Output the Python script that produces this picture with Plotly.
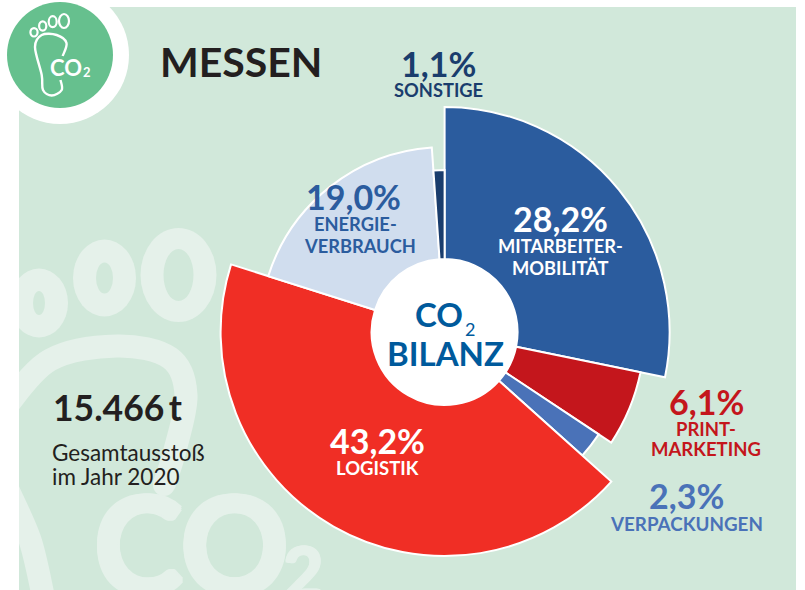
import plotly.graph_objects as go

W, H = 805, 590

categories = ["MITARBEITER-MOBILITÄT", "PRINT-MARKETING", "VERPACKUNGEN", "LOGISTIK", "ENERGIEVERBRAUCH", "SONSTIGE"]
shares = [28.2, 6.1, 2.3, 43.2, 19.0, 1.1]
share_labels = ["28,2%", "6,1%", "2,3%", "43,2%", "19,0%", "1,1%"]
outer_radius = [225, 200, 185, 224, 185, 162]
hole_radius = 73
colors = ["#2b5c9e", "#c4161c", "#4a72b8", "#f02e25", "#d0ddee", "#1a3d6d"]

CX, CY, RP = 444.6, 332.0, 240
BG = "#d1e8da"
WM = "#e5f1ea"
INK = "#231f20"
FONT = "Lato"


def fx(x):
    return x / W


def fy(y):
    return 1 - y / H


def smooth(pts):
    """Catmull-Rom through points, as an SVG path in paper fractions."""
    p = [pts[0]] + list(pts) + [pts[-1]]
    d = f"M {fx(pts[0][0])} {fy(pts[0][1])}"
    for i in range(1, len(p) - 2):
        c1 = (p[i][0] + (p[i + 1][0] - p[i - 1][0]) / 6, p[i][1] + (p[i + 1][1] - p[i - 1][1]) / 6)
        c2 = (p[i + 1][0] - (p[i + 2][0] - p[i][0]) / 6, p[i + 1][1] - (p[i + 2][1] - p[i][1]) / 6)
        d += f" C {fx(c1[0])} {fy(c1[1])} {fx(c2[0])} {fy(c2[1])} {fx(p[i+1][0])} {fy(p[i+1][1])}"
    return d


def rect(x0, y0, x1, y1, fill):
    return dict(type="rect", xref="paper", yref="paper", layer="below", x0=fx(x0), x1=fx(x1), y0=fy(y0), y1=fy(y1),
                fillcolor=fill, line_width=0)


def ell(cx, cy, rx, ry, fill=None, line=None, lw=0):
    return dict(type="circle", xref="paper", yref="paper", layer="below",
                x0=fx(cx - rx), x1=fx(cx + rx), y0=fy(cy + ry), y1=fy(cy - ry),
                fillcolor=fill or "rgba(0,0,0,0)", line=dict(color=line or "rgba(0,0,0,0)", width=lw))


def stroke(pts, color, lw):
    return dict(type="path", xref="paper", yref="paper", layer="below", path=smooth(pts),
                line=dict(color=color, width=lw), fillcolor="rgba(0,0,0,0)")


shapes = [rect(19, 7, 796, 590, BG)]
# watermark footprint
for cx, cy, rx, ry, irx, iry in [(178.5, 275, 38, 47, 15, 26), (104.5, 278, 31.5, 38.5, 8.5, 15.5), (39, 303, 29, 34.5, 6, 12)]:
    shapes.append(ell(cx, cy, rx, ry, fill=WM))
    shapes.append(ell(cx, cy, irx, iry, fill=BG))
shapes.append(stroke([(5, 408), (50, 360), (117, 346), (170, 358), (186, 395), (175, 450), (164, 485)], WM, 23))
shapes.append(ell(164, 485, 11, 11, fill=WM))
shapes.append(stroke([(8, 490), (30, 540), (43, 595)], WM, 23))
# masks outside the panel
shapes.append(rect(0, 0, 19, 590, "#ffffff"))
# badge
shapes.append(ell(60, 55, 69, 69, fill="#ffffff"))
shapes.append(ell(60, 55, 53, 53, fill="#66c08e"))
for cx, cy, rx, ry in [(64, 21, 5, 7), (52.7, 21.7, 4, 5.5), (42.7, 26, 3.6, 4.6), (34, 32.3, 3.6, 4.2)]:
    shapes.append(ell(cx, cy, rx, ry, line="#ffffff", lw=2.2))
shapes.append(stroke([(62.7, 56), (66.5, 43), (56.7, 35), (41.7, 35), (35, 47), (41.7, 75), (43, 90), (51.7, 95.5),
                      (61.7, 90), (60.5, 80)], "#ffffff", 2.4))


def txt(x, y, s, size, color, bold=True, anchor="center", shadow=None):
    font = dict(family=FONT, size=size, color=color)
    if shadow:
        font["shadow"] = shadow
    return dict(x=fx(x), y=fy(y), xref="paper", yref="paper", text=f"<b>{s}</b>" if bold else s,
                showarrow=False, xanchor=anchor, yanchor="middle", font=font, borderpad=0, align="center")


def heavy(n, c):
    return ", ".join(f"{a}px {b}px 0 {c}" for a, b in [(n, 0), (-n, 0), (0, n), (0, -n), (n, n), (-n, n), (n, -n), (-n, -n)])


annotations = [
    txt(93, 542, "CO", 134, WM, anchor="left", shadow=heavy(2, WM)),
    txt(282, 571, "2", 70, WM, anchor="left", shadow=heavy(1, WM)),
    txt(65.5, 67.5, "CO", 22, "#ffffff"),
    txt(87, 71.5, "2", 13, "#ffffff"),
    txt(158.5, 61, "MESSEN", 41, INK, anchor="left"),
    txt(438, 64, share_labels[5], 34, colors[5]),
    txt(438, 90, "SONSTIGE", 18.3, colors[5]),
    txt(560, 218.5, share_labels[0], 34, "#ffffff"),
    txt(560, 246, "MITARBEITER-", 18.3, "#ffffff"),
    txt(560, 268, "MOBILITÄT", 18.3, "#ffffff"),
    txt(353, 196.5, share_labels[4], 34, colors[0]),
    txt(355, 224, "ENERGIE-", 18.3, colors[0]),
    txt(360, 246, "VERBRAUCH", 18.3, colors[0]),
    txt(377, 440, share_labels[3], 34, "#ffffff"),
    txt(377, 468, "LOGISTIK", 18.5, "#ffffff"),
    txt(706, 401, share_labels[1], 34, colors[1]),
    txt(706, 429, "PRINT-", 18.5, colors[1]),
    txt(706, 449, "MARKETING", 18.5, colors[1]),
    txt(686, 495, share_labels[2], 34, colors[2]),
    txt(686, 523, "VERPACKUNGEN", 18.8, colors[2]),
    txt(439, 313.5, "CO", 33, "#005a9c"),
    txt(470, 328.5, "2", 18, "#005a9c", bold=False),
    txt(446, 352.5, "BILANZ", 33, "#005a9c"),
    txt(51.5, 407, "15.466\u2009t", 35.5, INK, anchor="left"),
    txt(51, 452, "Gesamtausstoß", 22.5, INK, bold=False, anchor="left"),
    txt(51, 476, "im Jahr 2020", 22.5, INK, bold=False, anchor="left"),
]

total = sum(shares)
widths = [s / total * 360 for s in shares]
thetas, acc = [], 0
for w in widths:
    thetas.append(acc + w / 2)
    acc += w

fig = go.Figure()
fig.add_trace(go.Barpolar(
    r=[r - hole_radius for r in outer_radius], base=hole_radius, theta=thetas, width=widths,
    marker=dict(color=colors, line=dict(color="#ffffff", width=2)), text=categories,
    hovertemplate="%{text}<extra></extra>", opacity=1,
))
fig.add_trace(go.Barpolar(r=[hole_radius], theta=[0], width=[360], marker=dict(color="#ffffff", line_width=0),
                          hoverinfo="skip"))
fig.update_layout(
    width=W, height=H, margin=dict(l=0, r=0, t=0, b=0), showlegend=False,
    paper_bgcolor="#ffffff", plot_bgcolor="rgba(0,0,0,0)",
    polar=dict(
        domain=dict(x=[fx(CX - RP), fx(CX + RP)], y=[fy(CY + RP), fy(CY - RP)]),
        bgcolor="rgba(0,0,0,0)",
        radialaxis=dict(range=[0, RP], visible=False),
        angularaxis=dict(direction="clockwise", rotation=90, visible=False),
        barmode="overlay",
    ),
    shapes=shapes, annotations=annotations,
)
fig.write_html("out.html", config=dict(displayModeBar=False),
               post_script="document.body.style.margin='0';document.documentElement.style.overflow='hidden';")
